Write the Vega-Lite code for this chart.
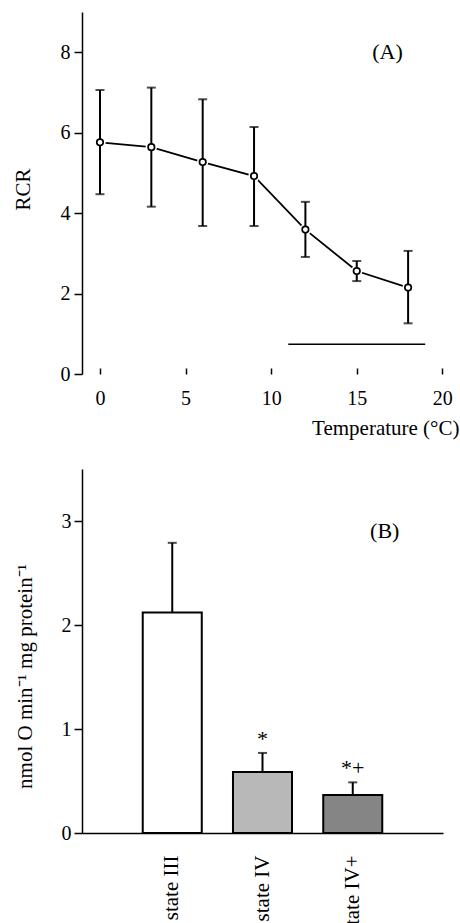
{
  "$schema": "https://vega.github.io/schema/vega-lite/v6.json",
  "padding": {"left": 12, "top": 12, "right": 0, "bottom": 0},
  "spacing": 31,
  "datasets": {
    "rcr": [
      {"temp": 0, "mean": 5.76, "lo": 4.47, "hi": 7.06},
      {"temp": 3, "mean": 5.64, "lo": 4.16, "hi": 7.12},
      {"temp": 6, "mean": 5.27, "lo": 3.68, "hi": 6.83},
      {"temp": 9, "mean": 4.92, "lo": 3.68, "hi": 6.14},
      {"temp": 12, "mean": 3.59, "lo": 2.91, "hi": 4.28},
      {"temp": 15, "mean": 2.56, "lo": 2.31, "hi": 2.81},
      {"temp": 18, "mean": 2.15, "lo": 1.26, "hi": 3.06}
    ],
    "signif": [
      {"from": 11, "to": 19, "level": 0.74}
    ],
    "rates": [
      {"state": "state III", "rate": 2.12, "upper": 2.79, "mark": ""},
      {"state": "state IV", "rate": 0.587, "upper": 0.77, "mark": "*"},
      {"state": "state IV+", "rate": 0.365, "upper": 0.487, "mark": "*+"}
    ],
    "panel_a": [{"label": "(A)", "temp": 16.8, "value": 8.0}],
    "panel_b": [{"label": "(B)", "state": "state IV+", "value": 2.9}]
  },
  "vconcat": [
    {
      "width": 379,
      "height": 362,
      "encoding": {
        "x": {
          "type": "quantitative",
          "scale": {"domain": [-1.05, 21.09], "nice": false, "zero": false},
          "axis": {
            "values": [0, 5, 10, 15, 20],
            "domain": false,
            "grid": false,
            "tickSize": -6,
            "labelPadding": 20,
            "title": "Temperature (°C)",
            "titleX": 377,
            "titleY": 60,
            "titleAlign": "right",
            "titleBaseline": "alphabetic",
            "titleAnchor": null
          }
        },
        "y": {
          "type": "quantitative",
          "scale": {"domain": [0, 9], "nice": false},
          "axis": {
            "values": [0, 2, 4, 6, 8],
            "grid": false,
            "tickSize": 8,
            "labelPadding": 4,
            "title": "RCR",
            "titleX": -59,
            "titleY": 177,
            "titleAngle": -90,
            "titleAlign": "center",
            "titleBaseline": "middle"
          }
        }
      },
      "layer": [
        {
          "mark": {"type": "rule", "color": "black", "strokeWidth": 1.5},
          "encoding": {
            "x": {"datum": 0, "type": "quantitative"},
            "x2": {"datum": 21.09},
            "y": {"datum": 0, "type": "quantitative"}
          }
        },
        {
          "data": {"name": "signif"},
          "mark": {"type": "rule", "color": "black", "strokeWidth": 1.5},
          "encoding": {
            "x": {"field": "from"},
            "x2": {"field": "to"},
            "y": {"field": "level"}
          }
        },
        {
          "data": {"name": "rcr"},
          "mark": {"type": "line", "color": "black", "strokeWidth": 1.8},
          "encoding": {
            "x": {"field": "temp"},
            "y": {"field": "mean"}
          }
        },
        {
          "data": {"name": "rcr"},
          "mark": {"type": "point", "shape": "circle", "filled": true, "color": "white", "opacity": 1, "size": 130},
          "encoding": {
            "x": {"field": "temp"},
            "y": {"field": "mean"}
          }
        },
        {
          "data": {"name": "rcr"},
          "mark": {"type": "rule", "color": "black", "strokeWidth": 2},
          "encoding": {
            "x": {"field": "temp"},
            "y": {"field": "lo"},
            "y2": {"field": "hi"}
          }
        },
        {
          "data": {"name": "rcr"},
          "mark": {"type": "tick", "orient": "horizontal", "color": "black", "size": 9, "thickness": 2},
          "encoding": {
            "x": {"field": "temp"},
            "y": {"field": "lo"}
          }
        },
        {
          "data": {"name": "rcr"},
          "mark": {"type": "tick", "orient": "horizontal", "color": "black", "size": 9, "thickness": 2},
          "encoding": {
            "x": {"field": "temp"},
            "y": {"field": "hi"}
          }
        },
        {
          "data": {"name": "rcr"},
          "mark": {"type": "point", "shape": "circle", "filled": true, "fill": "white", "stroke": "black", "strokeWidth": 1.7, "opacity": 1, "size": 42},
          "encoding": {
            "x": {"field": "temp"},
            "y": {"field": "mean"}
          }
        },
        {
          "data": {"name": "panel_a"},
          "mark": {"type": "text", "font": "Liberation Serif", "fontSize": 22, "baseline": "middle", "align": "center", "color": "black"},
          "encoding": {
            "x": {"field": "temp"},
            "y": {"field": "value"},
            "text": {"field": "label"}
          }
        }
      ]
    },
    {
      "width": 361,
      "height": 364,
      "encoding": {
        "x": {
          "field": "state",
          "type": "nominal",
          "sort": null,
          "scale": {"domain": ["state III", "state IV", "state IV+"], "paddingInner": 0.346, "paddingOuter": 0.673},
          "axis": {
            "title": null,
            "ticks": false,
            "labelAngle": -90,
            "labelPadding": 22,
            "labelFontSize": 21
          }
        },
        "y": {
          "type": "quantitative",
          "scale": {"domain": [0, 3.5], "nice": false},
          "axis": {
            "values": [0, 1, 2, 3],
            "grid": false,
            "tickSize": 8,
            "labelPadding": 3,
            "title": "nmol O min⁻¹ mg protein⁻¹",
            "titleX": -57,
            "titleY": 207,
            "titleAngle": -90,
            "titleAlign": "center",
            "titleBaseline": "middle"
          }
        }
      },
      "layer": [
        {
          "data": {"name": "rates"},
          "mark": {"type": "bar", "stroke": "black", "strokeWidth": 2},
          "encoding": {
            "y": {"field": "rate"},
            "fill": {
              "field": "state",
              "type": "nominal",
              "scale": {"domain": ["state III", "state IV", "state IV+"], "range": ["#ffffff", "#b8b8b8", "#858585"]},
              "legend": null
            }
          }
        },
        {
          "data": {"name": "rates"},
          "mark": {"type": "rule", "color": "black", "strokeWidth": 2},
          "encoding": {
            "y": {"field": "rate"},
            "y2": {"field": "upper"}
          }
        },
        {
          "data": {"name": "rates"},
          "mark": {"type": "tick", "color": "black", "size": 9, "thickness": 2},
          "encoding": {
            "y": {"field": "upper"}
          }
        },
        {
          "data": {"name": "rates"},
          "mark": {"type": "text", "font": "Liberation Serif", "fontSize": 22, "baseline": "alphabetic", "align": "center", "dy": -7, "color": "black"},
          "encoding": {
            "y": {"field": "upper"},
            "text": {"field": "mark"}
          }
        },
        {
          "data": {"name": "panel_b"},
          "mark": {"type": "text", "font": "Liberation Serif", "fontSize": 22, "baseline": "middle", "align": "center", "dx": 32, "color": "black"},
          "encoding": {
            "y": {"field": "value"},
            "text": {"field": "label"}
          }
        }
      ]
    }
  ],
  "config": {
    "font": "Liberation Serif",
    "view": {"stroke": null},
    "axis": {
      "labelFont": "Liberation Serif",
      "titleFont": "Liberation Serif",
      "labelFontSize": 20,
      "titleFontSize": 21,
      "titleFontWeight": "normal",
      "labelColor": "black",
      "titleColor": "black",
      "domainColor": "black",
      "tickColor": "black",
      "domainWidth": 1.5,
      "tickWidth": 1.5
    }
  }
}
